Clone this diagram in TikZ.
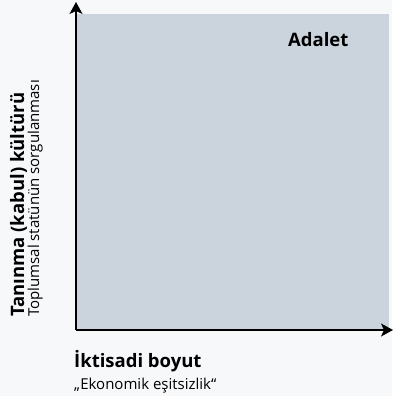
\documentclass[tikz,border=0pt]{standalone}
\usepackage{fontspec}
\setmainfont{Open Sans}
\usetikzlibrary{arrows.meta}
\definecolor{bgc}{RGB}{247,248,250}
\definecolor{quad}{RGB}{203,211,220}
\tikzset{
  axis/.style={line width=1.6pt, -{Stealth[length=12pt,width=13pt,inset=3pt]}},
  boldlab/.style={font=\fontsize{18.5}{21}\selectfont\bfseries, inner sep=0pt},
  sublab/.style={font=\fontsize{15}{17}\selectfont, inner sep=0pt}
}
\begin{document}
\begin{tikzpicture}[x=1pt,y=1pt]
  \fill[bgc] (0,0) rectangle (392,396);
  \useasboundingbox (0,0) rectangle (392,396);
  \fill[quad] (77,66) rectangle (389,382);
  \coordinate (O) at (76,66);
  \coordinate (ytip) at (76,394);
  \coordinate (xtip) at (393,66);
  \draw[axis] (O) -- (ytip);
  \draw[axis] (O) -- (xtip);
  \node[boldlab, anchor=base west] (adalet) at (288,349) {Adalet};
  \node[boldlab, anchor=base west] (xlab) at (74,28) {İktisadi boyut};
  \node[sublab, anchor=base west] (xsub) at (74,6) {„Ekonomik eşitsizlik“};
  \node[boldlab, anchor=base west, rotate=90] (ylab) at (24,79) {Tanınma (kabul) kültürü};
  \node[sublab, anchor=base west, rotate=90] (ysub) at (39,79) {Toplumsal statünün sorgulanması};
\end{tikzpicture}
\end{document}
